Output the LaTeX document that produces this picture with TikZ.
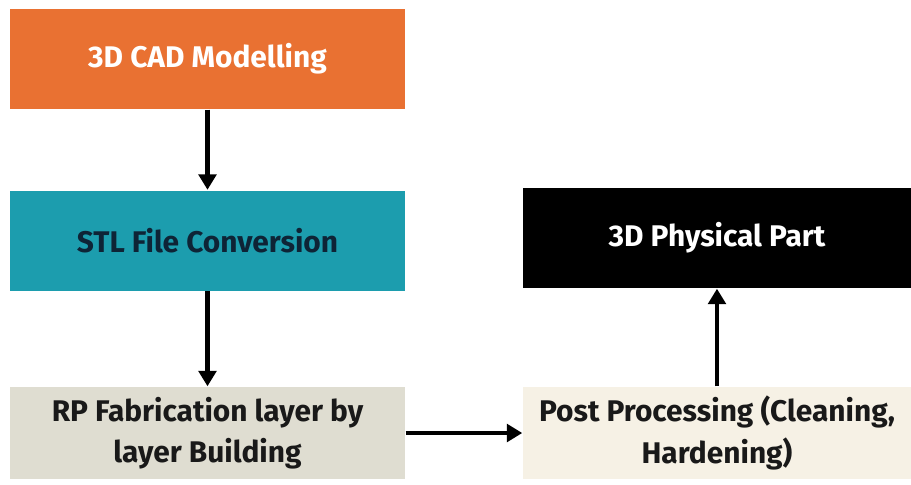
\documentclass[tikz,border=0pt]{standalone}
\usepackage{fontspec}
\setmainfont{Fira Sans}
\usetikzlibrary{arrows.meta, positioning}
\definecolor{cadorange}{HTML}{E97132}
\definecolor{stlteal}{HTML}{1C9DAE}
\definecolor{rpbeige}{HTML}{DFDDD1}
\definecolor{postcream}{HTML}{F6F1E5}
\definecolor{navytext}{HTML}{0E2436}
\tikzset{
  stagebox/.style={inner sep=0pt, minimum width=3.95cm, minimum height=1.0cm, align=center,
    font=\fontsize{8.5}{11.8}\selectfont\bfseries},
  flow/.style={line width=1.2pt, -{Triangle[width=5pt,length=4.4pt]}}
}

\begin{document}
\begin{tikzpicture}
    \useasboundingbox (0,0) rectangle (9.11,-4.84);

    \node[stagebox, fill=cadorange, text=white] (cad) at (2.075,-0.59) {3D CAD Modelling};
    \node[stagebox, fill=stlteal, text=navytext] (stl) at (2.075,-2.405) {STL File Conversion};
    \node[stagebox, fill=rpbeige, text=black!90, minimum height=0.92cm] (rp) at (2.075,-4.33) {RP Fabrication layer by\\layer Building};
    \node[stagebox, fill=postcream, text=black!90, minimum width=3.88cm, minimum height=0.92cm] (post) at (7.17,-4.33) {Post Processing (Cleaning,\\Hardening)};
    \node[stagebox, fill=black, text=white, minimum width=3.88cm] (part) at (7.17,-2.38) {3D Physical Part};

    \draw[flow] (cad) -- (stl);
    \draw[flow] (stl) -- (rp);
    \draw[flow] (rp) -- (post);
    \draw[flow] (post) -- (part);
\end{tikzpicture}
\end{document}
